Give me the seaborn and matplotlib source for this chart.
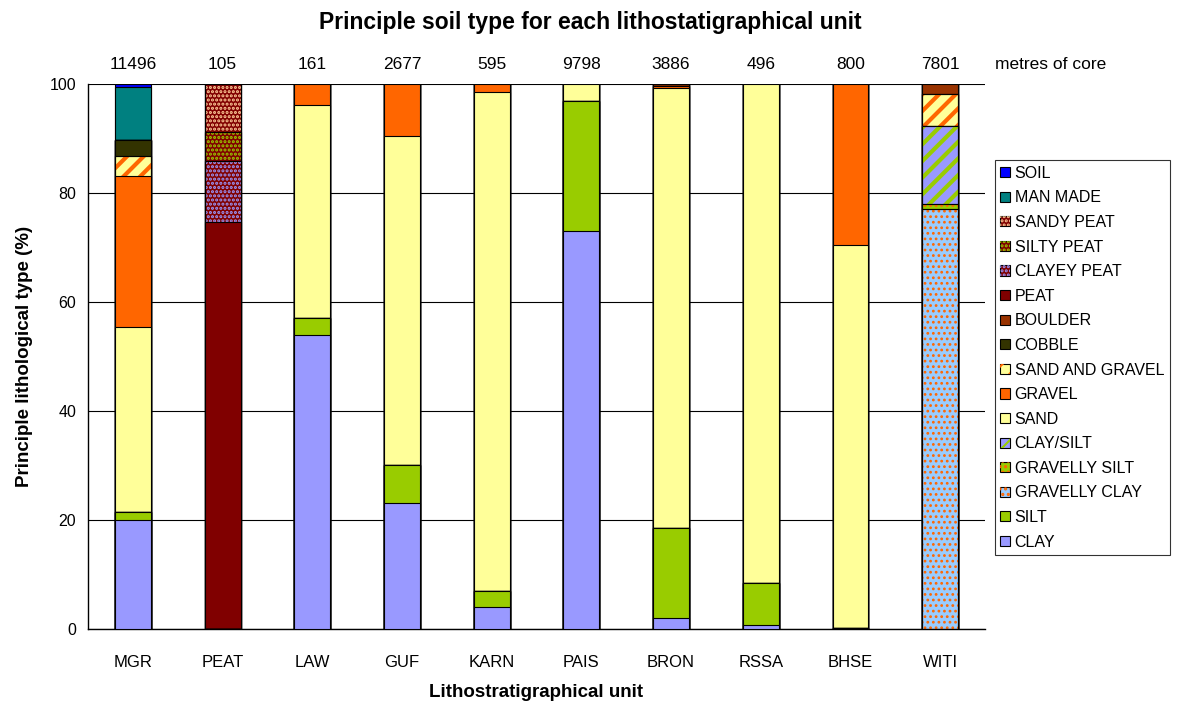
import numpy as np
import matplotlib
matplotlib.use("Agg")
import matplotlib.pyplot as plt
from matplotlib.patches import Patch
import seaborn as sns

# units along x and the metres of core logged in each
units = ["MGR", "PEAT", "LAW", "GUF", "KARN", "PAIS", "BRON", "RSSA", "BHSE", "WITI"]
metres = ["11496", "105", "161", "2677", "595", "9798", "3886", "496", "800", "7801"]

# percentage of each soil type per unit (stacked bottom to top)
soil_types = ["CLAY", "SILT", "GRAVELLY CLAY", "GRAVELLY SILT", "CLAY/SILT", "SAND",
              "GRAVEL", "SAND AND GRAVEL", "COBBLE", "BOULDER", "PEAT", "CLAYEY PEAT",
              "SILTY PEAT", "SANDY PEAT", "MAN MADE", "SOIL"]
clay =          [20.0, 0, 53.9, 23.1, 4.0, 73.0, 2.0, 0.7, 0.2, 0]
silt =          [1.5, 0, 3.2, 7.0, 3.0, 23.9, 16.5, 7.7, 0, 0]
gravelly_clay = [0, 0, 0, 0, 0, 0, 0, 0, 0, 77.1]
gravelly_silt = [0, 0, 0, 0, 0, 0, 0, 0, 0, 0.9]
clay_silt =     [0, 0, 0, 0, 0, 0, 0, 0, 0, 14.3]
sand =          [33.9, 0, 39.0, 60.4, 91.5, 3.1, 80.8, 91.6, 70.3, 0]
gravel =        [27.8, 0, 3.9, 9.5, 1.5, 0, 0.4, 0, 29.5, 0]
sand_gravel =   [3.6, 0, 0, 0, 0, 0, 0, 0, 0, 5.8]
cobble =        [2.9, 0, 0, 0, 0, 0, 0, 0, 0, 0]
boulder =       [0, 0, 0, 0, 0, 0, 0.3, 0, 0, 1.9]
peat =          [0, 74.7, 0, 0, 0, 0, 0, 0, 0, 0]
clayey_peat =   [0, 11.2, 0, 0, 0, 0, 0, 0, 0, 0]
silty_peat =    [0, 5.3, 0, 0, 0, 0, 0, 0, 0, 0]
sandy_peat =    [0, 8.8, 0, 0, 0, 0, 0, 0, 0, 0]
man_made =      [9.8, 0, 0, 0, 0, 0, 0, 0, 0, 0]
soil =          [0.5, 0, 0, 0, 0, 0, 0, 0, 0, 0]

layers = [clay, silt, gravelly_clay, gravelly_silt, clay_silt, sand, gravel, sand_gravel,
          cobble, boulder, peat, clayey_peat, silty_peat, sandy_peat, man_made, soil]

# face colour, hatch colour, hatch, hatch linewidth
styles = {
    "CLAY": ("#9999FF", None, None, 0),
    "SILT": ("#99CC00", None, None, 0),
    "GRAVELLY CLAY": ("#99CCFF", "#FF6600", "...", 1.2),
    "GRAVELLY SILT": ("#99CC00", "#FF6600", "...", 1.2),
    "CLAY/SILT": ("#9999FF", "#99CC00", "//", 3.0),
    "SAND": ("#FFFF99", None, None, 0),
    "GRAVEL": ("#FF6600", None, None, 0),
    "SAND AND GRAVEL": ("#FFFF99", "#FF6600", "//", 3.0),
    "COBBLE": ("#333300", None, None, 0),
    "BOULDER": ("#993300", None, None, 0),
    "PEAT": ("#800000", None, None, 0),
    "CLAYEY PEAT": ("#800000", "#9999FF", "....", 1.5),
    "SILTY PEAT": ("#800000", "#99CC00", "....", 1.5),
    "SANDY PEAT": ("#800000", "#FFCC99", "....", 1.5),
    "MAN MADE": ("#008080", None, None, 0),
    "SOIL": ("#0000FF", None, None, 0),
}

sns.set_style("white")
plt.rcParams["font.family"] = ["Liberation Sans", "DejaVu Sans"]
plt.rcParams["text.color"] = "black"
plt.rcParams["axes.labelcolor"] = "black"
plt.rcParams["xtick.color"] = "black"
plt.rcParams["ytick.color"] = "black"

fig = plt.figure(figsize=(11.8, 7.06), dpi=100)
ax = fig.add_axes([0.0746, 0.109, 0.7602, 0.772])

cum = np.cumsum(np.array(layers, dtype=float), axis=0)
bw = 0.4
for i in reversed(range(len(layers))):
    face, hc, hatch, hlw = styles[soil_types[i]]
    sns.barplot(x=units, y=cum[i], order=units, color=face, saturation=1, width=bw,
                edgecolor="black", linewidth=0.8, ax=ax, zorder=3)
    if hatch:
        n0 = len(ax.patches)
        plt.rcParams["hatch.linewidth"] = hlw
        sns.barplot(x=units, y=cum[i], order=units, width=bw, facecolor="none",
                    edgecolor=hc, hatch=hatch, linewidth=0, ax=ax, zorder=3)
        for p in ax.patches[n0:]:
            if hasattr(p, "set_hatch_linewidth"):
                p.set_hatch_linewidth(hlw)
        sns.barplot(x=units, y=cum[i], order=units, width=bw, facecolor="none",
                    edgecolor="black", linewidth=0.8, ax=ax, zorder=3)
plt.rcParams["hatch.linewidth"] = 1.5

ax.set_xlim(-0.5, len(units) - 0.5)
ax.set_ylim(0, 100)
ax.set_yticks([0, 20, 40, 60, 80, 100])
ax.yaxis.grid(True, color="black", linewidth=0.8)
ax.set_axisbelow(True)
ax.set_xticks(range(len(units)))
ax.set_xticklabels(units, fontsize=12)
ax.set_xticks(np.arange(-0.5, len(units)), minor=True)
ax.tick_params(axis="x", which="major", length=0, pad=19)
ax.tick_params(axis="x", which="minor", length=5, width=0.8, color="black", direction="out")
ax.tick_params(axis="y", length=5, width=0.8, color="black", direction="out", labelsize=11.5)
for s in ["top", "right"]:
    ax.spines[s].set_visible(False)
for s in ["left", "bottom"]:
    ax.spines[s].set_color("black")
    ax.spines[s].set_linewidth(1)

ax.set_xlabel("Lithostratigraphical unit", fontsize=13.5, fontweight="bold", labelpad=10)
ax.set_ylabel("Principle lithological type (%)", fontsize=13.5, fontweight="bold", labelpad=12)
fig.suptitle("Principle soil type for each lithostatigraphical unit", x=0.5, y=0.985,
             fontsize=16.5, fontweight="bold")

for j, m in enumerate(metres):
    ax.text(j, 103.5, m, ha="center", va="center", fontsize=12.5, clip_on=False)
ax.text(9.61, 103.5, "metres of core", ha="left", va="center", fontsize=12.5, clip_on=False)

handles = []
for name in reversed(soil_types):
    face, hc, hatch, hlw = styles[name]
    base = Patch(facecolor=face, edgecolor="black", linewidth=0.8)
    if hatch:
        handles.append((base, Patch(facecolor="none", edgecolor=hc, hatch=hatch, linewidth=0)))
    else:
        handles.append(base)
leg = fig.legend(handles, list(reversed(soil_types)), loc="upper left",
                 bbox_to_anchor=(0.843, 0.773), bbox_transform=fig.transFigure,
                 fontsize=11.5, frameon=True, fancybox=False, edgecolor="black",
                 handlelength=0.6, handleheight=0.6, handletextpad=0.3,
                 labelspacing=0.6, borderpad=0.35, borderaxespad=0)
leg.get_frame().set_linewidth(0.8)

fig.savefig("out.png", dpi=100)
